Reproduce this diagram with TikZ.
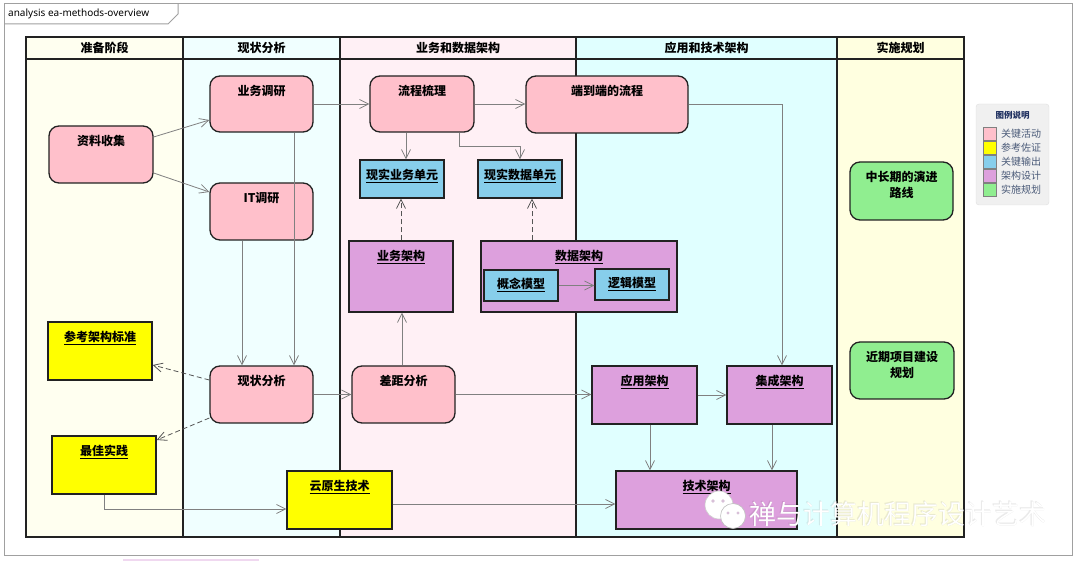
\documentclass[tikz,border=0pt]{standalone}
\usepackage{fontspec}
\setmainfont{Noto Sans CJK SC}
\newfontfamily\latinf{Noto Sans}
\usetikzlibrary{arrows.meta,calc}
\definecolor{pinkc}{HTML}{FFC0CB}
\definecolor{yellowc}{HTML}{FFFF00}
\definecolor{bluec}{HTML}{87CEEB}
\definecolor{plumc}{HTML}{DDA0DD}
\definecolor{greenc}{HTML}{90EE90}
\definecolor{laneA}{HTML}{FFFFF0}
\definecolor{laneB}{HTML}{F0FFFF}
\definecolor{laneC}{HTML}{FFF0F5}
\definecolor{laneD}{HTML}{E0FFFF}
\definecolor{laneE}{HTML}{FFFFE0}
\definecolor{bd}{HTML}{222222}
\definecolor{connc}{HTML}{808080}
\definecolor{dashc}{HTML}{555555}
\definecolor{framec}{HTML}{A0A0A0}
\definecolor{legbg}{HTML}{F0F0F0}
\definecolor{legbd}{HTML}{E0E0E0}
\definecolor{legtxt}{HTML}{4A5A78}
\definecolor{legttl}{HTML}{1F3060}
\definecolor{stripc}{HTML}{F0D8F0}
\definecolor{dotc}{HTML}{D8C0D8}
\begin{document}
\begin{tikzpicture}[x=1pt,y=-1pt,
  act/.style={draw=bd, fill=pinkc, rounded corners=10pt, line width=1.3pt, inner sep=0pt},
  box/.style={draw=bd, line width=1.3pt, inner sep=0pt},
  plan/.style={draw=bd, fill=greenc, rounded corners=10pt, line width=1.3pt, inner sep=0pt},
  tl/.style={label={[anchor=base, inner sep=0pt, yshift=-20pt, font=\bfseries\fontsize{12}{14}\selectfont]north:#1}},
  tlb/.style={label={[anchor=base, inner sep=0pt, yshift=-36pt, font=\bfseries\fontsize{12}{14}\selectfont]north:#1}},
  hdr/.style={font=\bfseries\fontsize{12}{14}\selectfont, inner sep=0pt},
  conn/.style={draw=connc, line width=0.8pt, -{Straight Barb[length=9pt,width=9pt]}},
  dsh/.style={conn, draw=dashc, dash pattern=on 5pt off 3pt},
  sw/.style={draw=connc, line width=0.8pt, minimum width=13pt, minimum height=13pt, inner sep=0pt},
  lgl/.style={anchor=west, inner sep=0pt, text=legtxt, font=\fontsize{10}{12}\selectfont},
  wmk/.style={anchor=west, inner sep=0pt, font=\fontsize{27}{30}\selectfont}
]
\useasboundingbox (0,0) rectangle (1080,561);
\fill[white] (0,0) rectangle (1080,561);
\fill[stripc] (123,559) rectangle (259,561);

% outer frame
\draw[framec, line width=1pt] (4,4) rectangle (1072,555);
\draw[framec, line width=1pt] (4,24) -- (168,24) -- (178,14) -- (178,4);
\node[anchor=west, inner sep=0pt, font=\latinf\fontsize{10}{12}\selectfont] (ttl) at (8,14) {analysis ea-methods-overview};

% lanes
\fill[laneA] (26,37) rectangle (183,537);
\fill[laneB] (183,37) rectangle (340,537);
\fill[laneC] (340,37) rectangle (576,537);
\fill[laneD] (576,37) rectangle (837,537);
\fill[laneE] (837,37) rectangle (964,537);
\draw[bd, line width=1.5pt] (26,37) rectangle (964,537);
\draw[bd, line width=1.3pt] (26,59) -- (964,59);
\foreach \xx in {183,340,576,837} \draw[bd, line width=1.3pt] (\xx,37) -- (\xx,537);
\node[hdr] (h1) at (104.5,48) {准备阶段};
\node[hdr] (h2) at (261.5,48) {现状分析};
\node[hdr] (h3) at (458,48) {业务和数据架构};
\node[hdr] (h4) at (706.5,48) {应用和技术架构};
\node[hdr] (h5) at (900.5,48) {实施规划};

% nodes
\node[act, minimum width=104pt, minimum height=57pt, tl=资料收集] (zl) at (101,154.5) {};
\node[act, minimum width=103pt, minimum height=56pt, tl=业务调研] (yw) at (261.5,104) {};
\node[act, minimum width=103pt, minimum height=57pt, tl=IT调研] (it) at (261.5,211.5) {};
\node[act, minimum width=103pt, minimum height=57pt, tl=现状分析] (xz) at (261.5,394.5) {};
\node[act, minimum width=104pt, minimum height=56pt, tl=流程梳理] (lc) at (422,104) {};
\node[act, minimum width=162pt, minimum height=57pt, tl=端到端的流程] (dd) at (607,104.5) {};
\node[box, fill=bluec, minimum width=84pt, minimum height=38pt, tl=\underline{现实业务单元}] (xyw) at (402,179) {};
\node[box, fill=bluec, minimum width=84pt, minimum height=38pt, tl=\underline{现实数据单元}] (xsj) at (520,179) {};
\node[box, fill=plumc, minimum width=104pt, minimum height=71pt, tl=\underline{业务架构}] (ywjg) at (401,276.5) {};
\node[box, fill=plumc, minimum width=196pt, minimum height=71pt, tl=\underline{数据架构}] (sjjg) at (579,276.5) {};
\node[box, fill=bluec, minimum width=74pt, minimum height=31pt, label={[anchor=base, inner sep=0pt, yshift=-19.5pt, font=\bfseries\fontsize{12}{14}\selectfont]north:\underline{概念模型}}] (gn) at (521,285.5) {};
\node[box, fill=bluec, minimum width=74pt, minimum height=31pt, label={[anchor=base, inner sep=0pt, yshift=-19.5pt, font=\bfseries\fontsize{12}{14}\selectfont]north:\underline{逻辑模型}}] (lj) at (632,284.5) {};
\node[act, minimum width=103pt, minimum height=57pt, tl=差距分析] (cj) at (403.5,394.5) {};
\node[box, fill=plumc, minimum width=105pt, minimum height=58pt, tl=\underline{应用架构}] (yy) at (644.5,395) {};
\node[box, fill=plumc, minimum width=105pt, minimum height=58pt, tl=\underline{集成架构}] (jc) at (779.5,395) {};
\node[box, fill=plumc, minimum width=181pt, minimum height=58pt, tl=\underline{技术架构}] (js) at (706.5,500) {};
\node[box, fill=yellowc, minimum width=104pt, minimum height=58pt, tl=\underline{参考架构标准}] (ck) at (100,351) {};
\node[box, fill=yellowc, minimum width=104pt, minimum height=58pt, tl=\underline{最佳实践}] (zj) at (104,465) {};
\node[box, fill=yellowc, minimum width=105pt, minimum height=58pt, tl=\underline{云原生技术}] (yys) at (339.5,500) {};
\node[plan, minimum width=103pt, minimum height=58pt, tl=中长期的演进, tlb=路线] (zc) at (901.5,191) {};
\node[plan, minimum width=104pt, minimum height=57pt, tl=近期项目建设, tlb=规划] (jq) at (902,370.5) {};

% connectors
\draw[conn] (zl.east |- 0,137) -- (yw.west |- 0,120);
\draw[conn] (zl.east |- 0,173) -- (it.west |- 0,192);
\draw[conn] (yw) -- (lc);
\draw[conn] (294,0 |- yw.south) -- (294,0 |- xz.north);
\draw[conn] (242,0 |- it.south) -- (242,0 |- xz.north);
\draw[conn] (lc.east) -- (dd.west |- lc.east);
\draw[conn] (406,0 |- lc.south) -- (406,0 |- xyw.north);
\draw[conn] (459,0 |- lc.south) -- (459,146) -| (xsj.north);
\draw[dsh] (401,0 |- ywjg.north) -- (401,0 |- xyw.south);
\draw[dsh] (532,0 |- sjjg.north) -- (532,0 |- xsj.south);
\draw[conn] (gn.east) -- (lj.west |- gn.east);
\draw[conn] (402,0 |- cj.north) -- (402,0 |- ywjg.south);
\draw[conn] (xz) -- (cj);
\draw[conn] (cj.east) -- (yy.west |- cj.east);
\draw[conn] (yy) -- (jc);
\draw[conn] (dd.east) -| (782,0 |- jc.north);
\draw[conn] (650,0 |- yy.south) -- (650,0 |- js.north);
\draw[conn] (772,0 |- jc.south) -- (772,0 |- js.north);
\draw[conn] (yys.east |- 0,504) -- (js.west |- 0,504);
\draw[conn] (104,0 |- zj.south) |- (yys.west |- 0,509);
\draw[dsh] (xz.west |- 0,380) -- (ck.east |- 0,365);
\draw[dsh] (xz.west |- 0,418) -- (zj.east |- 0,440);

% legend
\node[draw=legbd, fill=legbg, rounded corners=3pt, minimum width=73pt, minimum height=101pt, inner sep=0pt] (leg) at (1012.5,154.5) {};
\node[inner sep=0pt, text=legttl, font=\bfseries\fontsize{8.5}{10}\selectfont] (legt) at (1012.5,115) {图例说明};
\node[sw, fill=pinkc] (s1) at (989.5,134) {};
\node[sw, fill=yellowc] (s2) at (989.5,148) {};
\node[sw, fill=bluec] (s3) at (989.5,162) {};
\node[sw, fill=plumc] (s4) at (989.5,176) {};
\node[sw, fill=greenc] (s5) at (989.5,190) {};
\node[lgl] (l1) at (1001,134) {关键活动};
\node[lgl] (l2) at (1001,148) {参考佐证};
\node[lgl] (l3) at (1001,162) {关键输出};
\node[lgl] (l4) at (1001,176) {架构设计};
\node[lgl] (l5) at (1001,190) {实施规划};

% watermark
\filldraw[fill=white, draw=black!20, line width=0.6pt] (719,505) circle[radius=14pt];
\filldraw[fill=white, draw=black!25, line width=0.6pt] (733,516) circle[radius=12.5pt];
\fill[dotc] (713,501) circle[radius=1.8pt] (723,501) circle[radius=1.8pt] (728,513) circle[radius=1.6pt] (738,513) circle[radius=1.6pt];
\node[wmk, text=black, opacity=0.12] (wms1) at (749.6,514.6) {禅与计算机程序设计艺术};
\node[wmk, text=black, opacity=0.08] (wms2) at (748.4,513.4) {禅与计算机程序设计艺术};
\node[wmk, text=white] (wm) at (749,514) {禅与计算机程序设计艺术};
\end{tikzpicture}
\end{document}
